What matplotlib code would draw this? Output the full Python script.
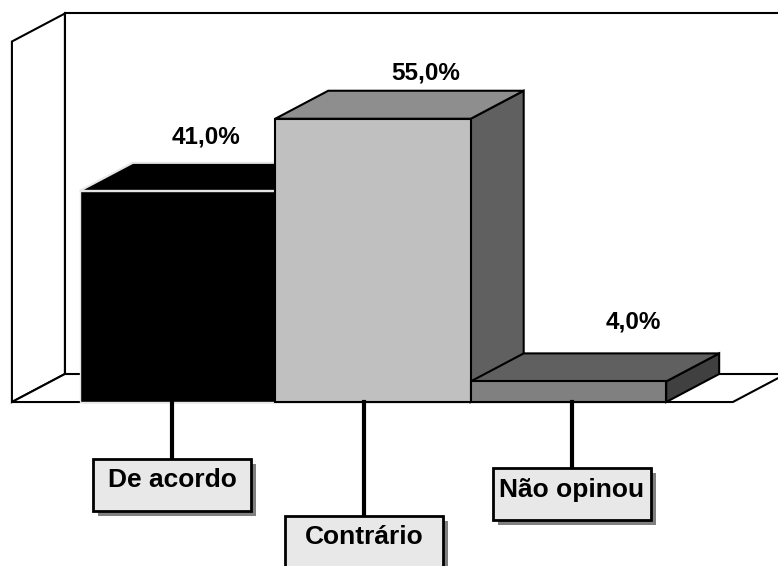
import matplotlib
matplotlib.use("Agg")
import matplotlib.pyplot as plt
from matplotlib.patches import Polygon, Rectangle

# ---- data -------------------------------------------------------------------
categories = ["De acordo", "Contrário", "Não opinou"]
values = [41.0, 55.0, 4.0]
value_labels = ["41,0%", "55,0%", "4,0%"]

# ---- styling / layout -------------------------------------------------------
front_colors = ["#000000", "#c0c0c0", "#808080"]
top_colors = ["#000000", "#8e8e8e", "#606060"]
side_colors = ["#000000", "#606060", "#404040"]
edge_colors = ["#e6e6e6", "#000000", "#000000"]

YMAX = 70           # axis maximum (back wall height)
DX, DY = 0.271, 5.44  # oblique depth offset (category units, percent)
X0, X1 = -0.847, 2.841  # floor extent

# value label positions (x in category units, y in percent)
vlabel_x = [0.146, 1.269, 2.33]
vlabel_y = [51.4, 63.9, 15.5]

# category label boxes: centre positions
box_x = [-0.028, 0.954, 2.018]
box_y = [-16.1, -27.2, -17.9]
BOX_W, BOX_H = 0.808, 10.1
SH_X, SH_Y = 0.026, 0.97
TEXT_LIFT = 0.9  # label text sits slightly above box centre

FONT = "Liberation Sans"

fig = plt.figure(figsize=(7.78, 5.66), dpi=100, facecolor="white")
ax = fig.add_axes([0, 0, 1, 1])
ax.set_xlim(-0.908, 3.072)
ax.set_ylim(-31.84, 78.06)
ax.axis("off")

lw = 1.5

# ---- walls and floor --------------------------------------------------------
ax.plot([X0 + DX, X0 + DX], [DY, YMAX + DY], color="black", lw=lw, zorder=1)
ax.plot([X0 + DX, X1 + DX + 1], [YMAX + DY, YMAX + DY], color="black", lw=lw, zorder=1)
left_wall = Polygon([(X0, 0), (X0, YMAX), (X0 + DX, YMAX + DY), (X0 + DX, DY)],
                    closed=True, facecolor="white", edgecolor="black", lw=lw, zorder=2)
ax.add_patch(left_wall)
floor = Polygon([(X0, 0), (X1, 0), (X1 + DX, DY), (X0 + DX, DY)],
                closed=True, facecolor="white", edgecolor="black", lw=lw, zorder=2)
ax.add_patch(floor)

# ---- bars ----------------------------------------------------------------------
for i, v in enumerate(values):
    z = 3 + i * 3
    l, r = i - 0.5, i + 0.5
    side = Polygon([(r, 0), (r + DX, DY), (r + DX, v + DY), (r, v)], closed=True,
                   facecolor=side_colors[i], edgecolor=edge_colors[i], lw=lw, zorder=z)
    top = Polygon([(l, v), (r, v), (r + DX, v + DY), (l + DX, v + DY)], closed=True,
                  facecolor=top_colors[i], edgecolor=edge_colors[i], lw=lw, zorder=z + 1)
    ax.add_patch(side)
    ax.add_patch(top)
    ax.bar(i, v, width=1.0, bottom=0, color=front_colors[i],
           edgecolor=edge_colors[i], linewidth=lw if i else 1.0, zorder=z + 2)

# ---- value labels -----------------------------------------------------------------
for x, y, t in zip(vlabel_x, vlabel_y, value_labels):
    ax.text(x, y, t, ha="center", va="center", fontsize=17.5, fontweight="bold",
            family=FONT, color="black", zorder=20)

# ---- category label boxes with leader lines -------------------------------------
for cx, cy, name in zip(box_x, box_y, categories):
    top_y = cy + BOX_H / 2
    ax.plot([cx, cx], [0, top_y], color="black", lw=3, zorder=20)
    ax.add_patch(Rectangle((cx - BOX_W / 2 + SH_X, cy - BOX_H / 2 - SH_Y), BOX_W, BOX_H,
                           facecolor="#808080", edgecolor="none", zorder=21))
    ax.add_patch(Rectangle((cx - BOX_W / 2, cy - BOX_H / 2), BOX_W, BOX_H,
                           facecolor="#e8e8e8", edgecolor="black", lw=2, zorder=22))
    ax.text(cx, cy + TEXT_LIFT, name, ha="center", va="center", fontsize=19,
            fontweight="bold", family=FONT, color="black", zorder=23)

fig.savefig("out.png", dpi=100, facecolor="white")
plt.close(fig)
